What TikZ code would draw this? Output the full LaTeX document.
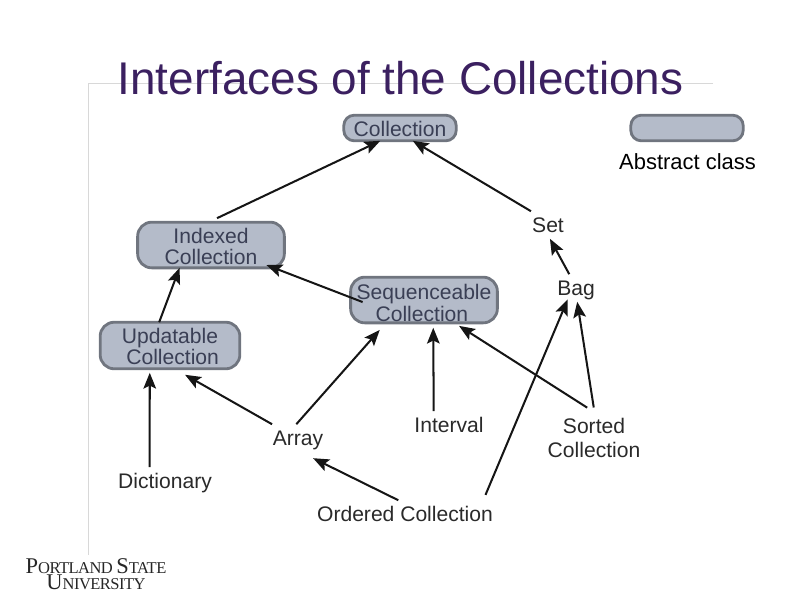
\documentclass[tikz,border=0pt]{standalone}
\usepackage{fontspec}
\setmainfont{Liberation Sans}
\newfontfamily\logofont[LetterSpace=-3.3]{Liberation Serif}
\usepackage{xcolor}
\usetikzlibrary{arrows.meta}
\definecolor{titlex}{HTML}{3B2060}
\definecolor{rulex}{HTML}{D8D8D8}
\definecolor{boxbg}{HTML}{B4BBC9}
\definecolor{boxline}{HTML}{70757F}
\definecolor{boxtext}{HTML}{3A3F55}
\definecolor{labx}{HTML}{2A2A2A}
\definecolor{arx}{HTML}{151515}
\newcommand{\boxdown}[1]{\rule{0pt}{#1}}
\newcommand{\logobig}[1]{{\fontsize{12.8}{9}\selectfont #1}}
\tikzset{
  ar/.style={-{Stealth[length=9pt,width=7.2pt,inset=1.8pt]},line width=1.15pt,arx},
  absbox/.style={draw=boxline,line width=1.6pt,fill=boxbg,rounded corners=8pt,align=center,inner sep=0pt,outer sep=0pt,text=boxtext,font=\fontsize{12}{12}\selectfont},
  lab/.style={text=labx,inner sep=3.4pt,text height=8.5pt,text depth=0pt,font=\fontsize{12}{13.6}\selectfont},
  lablong/.style={text=labx,inner sep=3.4pt,align=center,font=\fontsize{12}{13.6}\selectfont}
}
\begin{document}
\begin{tikzpicture}[x=0.02cm,y=-0.02cm]
\useasboundingbox (0,0) rectangle (800,600);
\draw[rulex,line width=0.5pt] (713,83)--(88,83)--(88,555);
\node[text=titlex,font=\fontsize{26.1}{28}\selectfont,inner sep=0pt] (title) at (400.5,78) {Interfaces of the Collections};
% abstract classes
\node[absbox,minimum width=64pt,minimum height=14.6pt,rounded corners=6pt] (collection) at (400,128) {\boxdown{9.8pt}Collection};
\node[absbox,minimum width=64pt,minimum height=14.6pt,rounded corners=6pt] (legend) at (687,128) {};
\node[absbox,minimum width=83.5pt,minimum height=26pt] (indexed) at (211,245) {\boxdown{10.4pt}Indexed\\Collection};
\node[absbox,minimum width=79.5pt,minimum height=26.5pt] (updatable) at (170,345.5) {\boxdown{9.9pt}Updatable\\\hspace*{.25em}Collection};
\node[absbox,minimum width=83.5pt,minimum height=26pt] (sequenceable) at (424,300) {\boxdown{12.1pt}Sequenceable\\Collection\hspace*{.2em}};
\node[text=black,inner sep=0pt,font=\fontsize{12.5}{14}\selectfont] (abstract) at (687.5,162) {Abstract class};
% concrete classes
\node[lab] (set) at (548,225) {Set};
\node[lab] (bag) at (576,288) {Bag};
\node[lab] (array) at (298,438) {Array};
\node[lab] (interval) at (449,425) {Interval};
\node[lab] (dictionary) at (165,481) {Dictionary};
\node[lab] (ordered) at (405,514) {Ordered Collection};
\node[lablong] (sorted) at (594,438) {Sorted\\Collection};
% logo
\node[inner sep=0pt,align=center,text=black!85,font=\logofont\fontsize{9.4}{9}\selectfont] (logo) at (96,574) {\logobig{P}ORTLAND \logobig{S}TATE\\\logobig{U}NIVERSITY};
% inheritance arrows
\draw[ar,shorten <=5.3pt] (indexed.96)--(collection.213);
\draw[ar] (set.141)--(collection.-45);
\draw[ar] (bag.116.6)--(set.278);
\draw[ar,shorten <=-7.3pt,shorten >=-4.5pt] (sequenceable.178.5)--(indexed.-20.9);
\draw[ar] (updatable.115)--(indexed.216.6);
\draw[ar,shorten >=2.3pt] (dictionary.138)--(updatable.229.6);
\draw[ar,shorten >=6.9pt] (array.152.5)--(updatable.-79.4);
\draw[ar,shorten >=5.4pt] (array.97)--(sequenceable.211.5);
\draw[ar,shorten >=2.8pt] (interval.138.8)--(sequenceable.-68.6);
\draw[ar,shorten <=4.6pt,shorten >=3.2pt] (sorted.90)--(sequenceable.-37.2);
\draw[ar,shorten <=2.6pt] (sorted.89)--(bag.-85);
\draw[ar,shorten <=3.3pt,shorten >=-1.5pt] (ordered.10.5)--(bag.236.3);
\draw[ar,shorten >=8.2pt] (ordered.116.6)--(array.-81.6);
\end{tikzpicture}
\end{document}
